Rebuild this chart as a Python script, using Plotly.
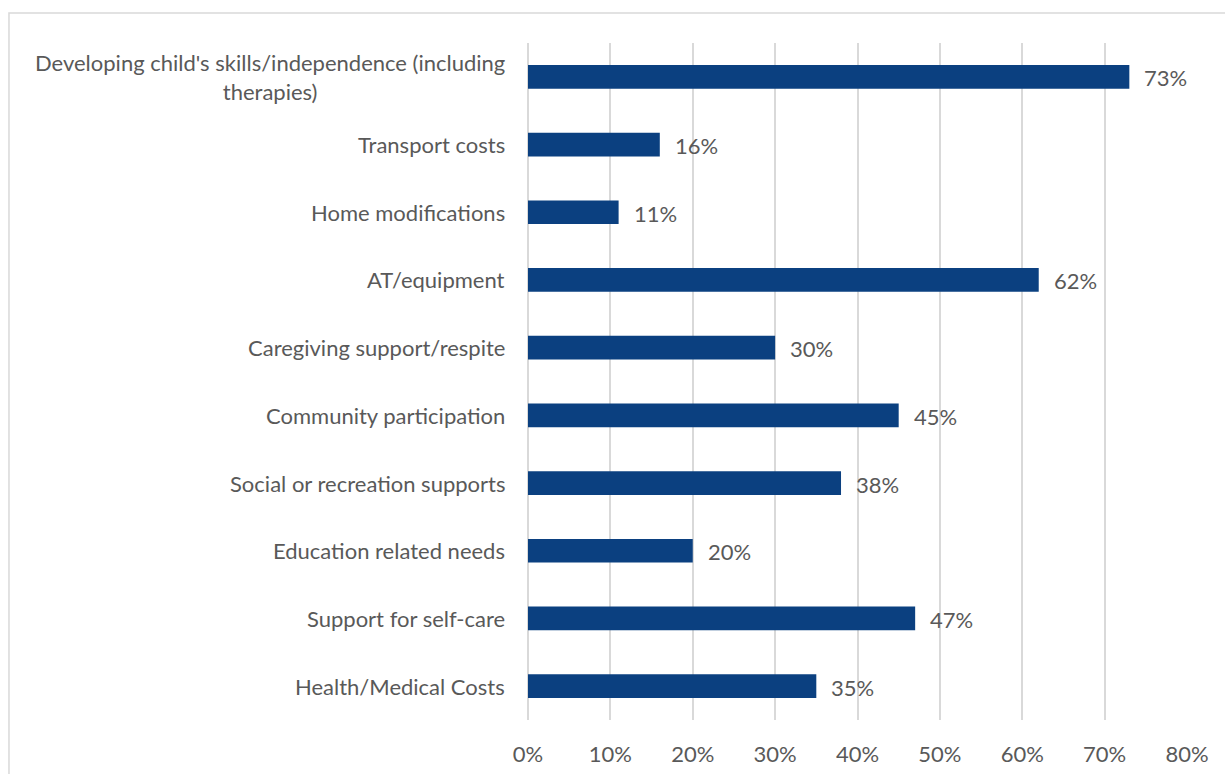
import plotly.graph_objects as go

# Share of respondents citing each area of funded support
categories = [
    "Developing child's skills/independence (including<br>therapies)",
    "Transport costs",
    "Home modifications",
    "AT/equipment",
    "Caregiving support/respite",
    "Community participation",
    "Social or recreation supports",
    "Education related needs",
    "Support for self-care",
    "Health/Medical Costs",
]
values = [0.73, 0.16, 0.11, 0.62, 0.30, 0.45, 0.38, 0.20, 0.47, 0.35]
value_labels = ["73%", "16%", "11%", "62%", "30%", "45%", "38%", "20%", "47%", "35%"]
tick_vals = [0, 0.1, 0.2, 0.3, 0.4, 0.5, 0.6, 0.7, 0.8]
tick_text = ["0%", "10%", "20%", "30%", "40%", "50%", "60%", "70%", "80%"]

BAR = "#0b4080"
TEXT = "#595959"
GRID = "#d9d9d9"
FONT = "Lato"
FS = 22

fig = go.Figure(
    go.Bar(
        x=values,
        y=categories,
        orientation="h",
        marker=dict(color=BAR, line=dict(width=0)),
        hoverinfo="skip",
    )
)

annotations = []
# value labels to the right of each bar
for cat, v, lab in zip(categories, values, value_labels):
    annotations.append(dict(
        x=v, y=cat, xref="x", yref="y", text=lab, showarrow=False,
        xanchor="left", xshift=13, yshift=-1,
        font=dict(family=FONT, size=FS, color=TEXT),
    ))
# category labels, centred when wrapped onto two lines
for cat in categories:
    annotations.append(dict(
        x=0, y=cat, xref="paper", yref="y", text=cat, showarrow=False,
        xanchor="right", align="center", xshift=-21, yshift=0,
        font=dict(family=FONT, size=FS, color=TEXT),
    ))

fig.update_layout(
    width=1225,
    height=774,
    margin=dict(l=528, r=38, t=43, b=54),
    paper_bgcolor="white",
    plot_bgcolor="white",
    bargap=0.65,
    showlegend=False,
    font=dict(family=FONT, size=FS, color=TEXT),
    annotations=annotations,
    xaxis=dict(
        range=[0, 0.8],
        tickvals=tick_vals,
        ticktext=tick_text,
        showgrid=True,
        gridcolor=GRID,
        gridwidth=1.5,
        zeroline=True,
        zerolinecolor=GRID,
        zerolinewidth=1.5,
        showline=False,
        ticks="",
        ticklabelstandoff=19,
        automargin=False,
        tickfont=dict(family=FONT, size=FS, color=TEXT),
        fixedrange=True,
    ),
    yaxis=dict(
        autorange="reversed",
        showticklabels=False,
        showgrid=False,
        zeroline=False,
        showline=False,
        ticks="",
        automargin=False,
        fixedrange=True,
    ),
    shapes=[
        # outer chart frame, running off the right and bottom edges
        dict(
            type="rect", xref="paper", yref="paper",
            x0=-0.7876, x1=1.2, y0=-0.2, y1=1.0443,
            line=dict(color=GRID, width=1.5), fillcolor="rgba(0,0,0,0)",
            layer="below",
        )
    ],
)

fig.write_html("out.html")
